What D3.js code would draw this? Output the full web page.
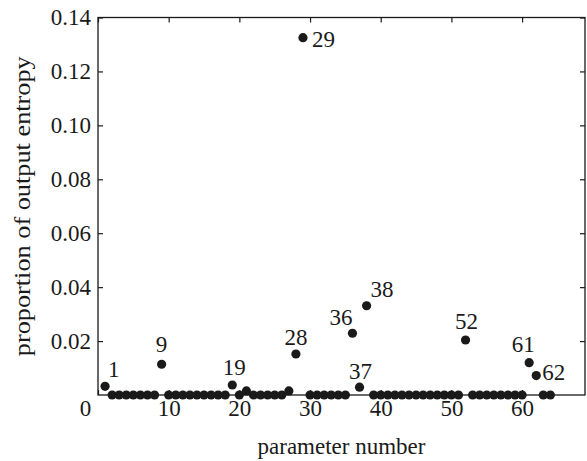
<!DOCTYPE html>
<html>
<head>
<meta charset="utf-8">
<script src="https://cdn.jsdelivr.net/npm/d3@7"></script>
<style>
  html, body { margin: 0; padding: 0; background: #fff; }
  svg text { font-family: "Liberation Serif", "Times New Roman", serif; fill: #1a1a1a; }
</style>
</head>
<body>
<svg id="chart" width="587" height="461"></svg>
<script>
// Parameter numbers 1..64
const paramNumbers = d3.range(1, 65);
// Proportion of output entropy for each parameter
const entropyValues = [
  0.0032, 0, 0, 0, 0, 0, 0, 0, 0.0114, 0,      // 1-10
  0, 0, 0, 0, 0, 0, 0, 0, 0.0037, 0,          // 11-20
  0.0015, 0, 0, 0, 0, 0, 0.0015, 0.0152, 0.1325, 0, // 21-30
  0, 0, 0, 0, 0, 0.0229, 0.0029, 0.0331, 0, 0, // 31-40
  0, 0, 0, 0, 0, 0, 0, 0, 0, 0,               // 41-50
  0, 0.0204, 0, 0, 0, 0, 0, 0, 0, 0,          // 51-60
  0.012, 0.0072, 0, 0                          // 61-64
];
// Labelled parameters
const labelledParams = [1, 9, 19, 28, 29, 36, 37, 38, 52, 61, 62];

const xTicks = [0, 10, 20, 30, 40, 50, 60];
const yTicks = [0.02, 0.04, 0.06, 0.08, 0.10, 0.12, 0.14];
const xDomain = [0, 68.9];
const yDomain = [0, 0.14];

const xTitle = "parameter number";
const yTitle = "proportion of output entropy";

// label placement (styling only): [anchor, dx, dy] relative to the point
const labelStyle = {
  1: ["start", 3, -9], 9: ["middle", 0, -12], 19: ["middle", 2, -10],
  28: ["middle", 0, -9], 29: ["start", 9, 9], 36: ["end", 0, -8],
  37: ["middle", 1, -8], 38: ["start", 4, -9], 52: ["middle", 1, -11],
  61: ["middle", -6, -11], 62: ["start", 6, 4]
};

const margin = { left: 98, right: 2, top: 17.5, bottom: 66 };
const W = 587, H = 461;
const svg = d3.select("#chart");

const x = d3.scaleLinear().domain(xDomain).range([margin.left, W - margin.right]);
const y = d3.scaleLinear().domain(yDomain).range([H - margin.bottom, margin.top]);

const ink = "#1a1a1a";
const fs = 23;

// box
svg.append("rect")
  .attr("x", x.range()[0]).attr("y", y.range()[1])
  .attr("width", x.range()[1] - x.range()[0])
  .attr("height", y.range()[0] - y.range()[1])
  .attr("fill", "none").attr("stroke", ink).attr("stroke-width", 1.3);

// bottom axis
const gx = svg.append("g").attr("transform", `translate(0,${y(0)})`)
  .call(d3.axisBottom(x).tickValues(xTicks).tickFormat(d3.format("d")).tickSizeInner(-5).tickSizeOuter(0).tickPadding(5));
// top axis (mirror ticks)
const gxt = svg.append("g").attr("transform", `translate(0,${y(yDomain[1])})`)
  .call(d3.axisTop(x).tickValues(xTicks).tickFormat("").tickSizeInner(-5).tickSizeOuter(0));
// left axis
const gy = svg.append("g").attr("transform", `translate(${x(0)},0)`)
  .call(d3.axisLeft(y).tickValues(yTicks).tickFormat(d3.format(".2f")).tickSizeInner(-5).tickSizeOuter(0).tickPadding(7));
// right axis (mirror ticks)
const gyr = svg.append("g").attr("transform", `translate(${x(xDomain[1])},0)`)
  .call(d3.axisRight(y).tickValues(yTicks).tickFormat("").tickSizeInner(-5).tickSizeOuter(0));

[gx, gxt, gy, gyr].forEach(g => {
  g.select(".domain").remove();
  g.selectAll(".tick line").attr("stroke", ink).attr("stroke-width", 1.2);
  g.selectAll("text").attr("font-size", fs).attr("fill", ink)
    .attr("font-family", "'Liberation Serif', serif");
});
// the "0" label sits left of its tick in the original
gx.selectAll(".tick text").filter(d => d === 0).attr("dx", -13);

// titles
svg.append("text")
  .attr("x", (x.range()[0] + x.range()[1]) / 2).attr("y", 454)
  .attr("text-anchor", "middle").attr("font-size", fs).text(xTitle);
svg.append("text")
  .attr("transform", `translate(30,${(y.range()[0] + y.range()[1]) / 2}) rotate(-90)`)
  .attr("text-anchor", "middle").attr("font-size", 24)
  .attr("textLength", 300).attr("lengthAdjust", "spacingAndGlyphs")
  .text(yTitle);

// points
const data = paramNumbers.map((p, i) => ({ p, v: entropyValues[i] }));
svg.append("g").selectAll("circle").data(data).join("circle")
  .attr("cx", d => x(d.p)).attr("cy", d => y(d.v)).attr("r", 4.6).attr("fill", ink);

// labels
svg.append("g").selectAll("text").data(labelledParams).join("text")
  .attr("font-size", fs)
  .attr("x", p => x(p) + labelStyle[p][1])
  .attr("y", p => y(entropyValues[p - 1]) + labelStyle[p][2])
  .attr("text-anchor", p => labelStyle[p][0])
  .text(p => String(p));
</script>
</body>
</html>
